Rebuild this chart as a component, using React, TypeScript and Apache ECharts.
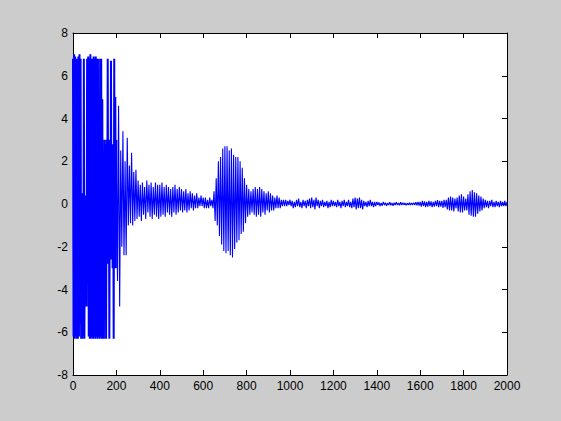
import React, { useEffect, useRef } from "react";
import * as echarts from "echarts";

// Signal samples.
// Segment A: x 0..197.5, one value every 2.5 units (dense clipped part)
const STEP_A = 2.5;
const a0000 = [6.8, -6.2, 7.0, -6.3, 6.9, -6.2, 6.8, -6.3, 6.8, -6.3, 6.9, -6.2, 7.0, -5.6, 6.8, -6.3, 0.5, -6.3, 0.3, -6.2];
const a0050 = [6.8, -6.3, 0.2, -4.6, 0.4, -4.8, 6.8, -0.3, 6.9, -6.2, 6.8, -6.3, 7.0, -6.3, 6.8, -6.2, 6.8, -6.3, 6.9, -6.2];
const a0100 = [6.8, -6.3, 6.9, -6.2, 6.8, -6.3, 6.8, -6.2, 3.3, -6.3, 6.8, -6.2, 6.8, -6.3, 4.9, -6.3, 2.0, -6.3, 3.0, -2.5];
const a0150 = [2.8, -6.3, 3.0, -2.5, 6.8, -2.8, 2.5, -6.3, 3.0, -2.4, 6.7, -2.6, 2.8, -3.0, 2.6, -6.3, 6.8, -2.5, 5.0, -3.0];
// Segment B: x 200..2000, one value every 5 units (blocks of 100 units)
const B_START = 200;
const STEP_B = 5;
const b0200 = [3.0, -3.6, 4.6, -4.8, 2.5, -2.0, 3.4, -2.4, 2.0, -2.4, 3.1, -1.0, 1.8, -0.9, 2.4, -1.0, 1.5, -0.8, 1.6, -0.7];
const b0300 = [1.1, -0.6, 0.9, -0.8, 1.0, -0.5, 0.8, -0.7, 1.1, -0.4, 0.9, -0.6, 1.0, -0.7, 0.8, -0.5, 1.0, -0.6, 0.9, -0.7];
const b0400 = [0.9, -0.6, 1.0, -0.5, 0.8, -0.6, 0.9, -0.4, 0.8, -0.5, 0.7, -0.6, 0.8, -0.4, 0.9, -0.5, 0.7, -0.4, 0.8, -0.3];
const b0500 = [0.7, -0.4, 0.6, -0.3, 0.7, -0.4, 0.5, -0.3, 0.6, -0.2, 0.5, -0.3, 0.4, -0.2, 0.5, -0.2, 0.3, -0.1, 0.4, -0.1];
const b0600 = [0.3, -0.2, 0.3, -0.2, 0.2, -0.2, 0.3, -0.1, 0.2, -0.2, 0.6, -0.8, 1.2, -1.0, 2.0, -1.5, 2.2, -1.9, 2.6, -2.2];
const b0700 = [2.7, -2.3, 2.7, -2.2, 2.5, -2.4, 2.6, -2.5, 2.3, -2.1, 2.2, -1.8, 2.2, -1.7, 2.0, -1.4, 1.7, -1.3, 1.2, -0.9];
const b0800 = [0.9, -0.6, 0.7, -0.5, 0.6, -0.4, 0.7, -0.5, 0.8, -0.6, 0.7, -0.5, 0.8, -0.6, 0.7, -0.4, 0.6, -0.5, 0.5, -0.3];
const b0900 = [0.6, -0.4, 0.5, -0.3, 0.4, -0.3, 0.3, -0.2, 0.4, -0.2, 0.3, -0.2, 0.2, -0.1, 0.2, -0.1, 0.2, -0.1, 0.15, -0.05];
const b1000 = [0.2, -0.1, 0.15, -0.2, 0.1, -0.15, 0.2, -0.1, 0.25, -0.15, 0.1, -0.2, 0.2, -0.1, 0.15, -0.2, 0.2, -0.1, 0.25, -0.2];
const b1100 = [0.3, -0.15, 0.2, -0.25, 0.3, -0.1, 0.2, -0.2, 0.15, -0.1, 0.2, -0.15, 0.1, -0.1, 0.15, -0.2, 0.1, -0.15, 0.2, -0.1];
const b1200 = [0.15, -0.1, 0.1, -0.15, 0.2, -0.1, 0.1, -0.2, 0.15, -0.1, 0.2, -0.15, 0.1, -0.1, 0.2, -0.15, 0.1, -0.2, 0.25, -0.15];
const b1300 = [0.3, -0.25, 0.25, -0.2, 0.3, -0.2, 0.2, -0.25, 0.15, -0.1, 0.1, -0.15, 0.15, -0.1, 0.2, -0.1, 0.1, -0.15, 0.1, -0.1];
const b1400 = [0.1, -0.05, 0.08, -0.1, 0.05, -0.08, 0.1, -0.05, 0.06, -0.08, 0.05, -0.05, 0.08, -0.06, 0.05, -0.08, 0.06, -0.05, 0.08, -0.05];
const b1500 = [0.05, -0.06, 0.08, -0.05, 0.06, -0.04, 0.05, -0.06, 0.04, -0.05, 0.06, -0.05, 0.05, -0.04, 0.06, -0.05, 0.08, -0.06, 0.1, -0.08];
const b1600 = [0.1, -0.12, 0.15, -0.1, 0.12, -0.15, 0.1, -0.12, 0.15, -0.1, 0.12, -0.15, 0.1, -0.12, 0.15, -0.1, 0.18, -0.15, 0.15, -0.12];
const b1700 = [0.15, -0.18, 0.2, -0.15, 0.2, -0.25, 0.3, -0.3, 0.35, -0.3, 0.3, -0.35, 0.25, -0.2, 0.3, -0.35, 0.4, -0.4, 0.45, -0.4];
const b1800 = [0.35, -0.3, 0.25, -0.3, 0.45, -0.5, 0.6, -0.55, 0.65, -0.6, 0.55, -0.6, 0.5, -0.45, 0.4, -0.35, 0.35, -0.3, 0.25, -0.2];
const b1900 = [0.2, -0.15, 0.15, -0.2, 0.15, -0.1, 0.2, -0.15, 0.1, -0.15, 0.15, -0.1, 0.1, -0.15, 0.15, -0.1, 0.1, -0.1, 0.15, -0.1, 0.1];

const segmentA = [...a0000, ...a0050, ...a0100, ...a0150];
const segmentB = [
  ...b0200, ...b0300, ...b0400, ...b0500, ...b0600, ...b0700, ...b0800, ...b0900,
  ...b1000, ...b1100, ...b1200, ...b1300, ...b1400, ...b1500, ...b1600, ...b1700, ...b1800, ...b1900,
];

const X_MIN = 0;
const X_MAX = 2000;
const X_INTERVAL = 200;
const Y_MIN = -8;
const Y_MAX = 8;
const Y_INTERVAL = 2;

export default function App() {
  const ref = useRef<HTMLDivElement>(null);

  useEffect(() => {
    if (!ref.current) return;
    const chart = echarts.init(ref.current, null, { renderer: "svg" });
    const font = { fontFamily: "Liberation Sans, Arial, sans-serif", fontSize: 12, color: "#000" };
    const axisLine = { show: true, onZero: false, lineStyle: { color: "#000", width: 1 } };
    const tick = { show: true, inside: true, length: 5, lineStyle: { color: "#000", width: 1 } };
    const dataB = segmentB.map((v, i) => [B_START + i * STEP_B, v]);
    const dataA = [...segmentA.map((v, i) => [i * STEP_A, v]), dataB[0]];
    const lineSeries = (data: number[][], width: number) => ({
      type: "line",
      xAxisIndex: 0,
      yAxisIndex: 0,
      data,
      showSymbol: false,
      symbol: "none",
      lineStyle: { color: "#0000ff", width },
      itemStyle: { color: "#0000ff" },
      silent: true,
    });
    chart.setOption({
      animation: false,
      backgroundColor: "#cccccc",
      grid: { left: 73, right: 54, top: 33, bottom: 46, show: true, backgroundColor: "#ffffff", borderWidth: 0 },
      xAxis: [
        {
          type: "value", position: "bottom", min: X_MIN, max: X_MAX, interval: X_INTERVAL,
          axisLine, axisTick: tick, splitLine: { show: false },
          axisLabel: { ...font, margin: 5, formatter: (v: number) => String(v) },
        },
        {
          type: "value", position: "top", min: X_MIN, max: X_MAX, interval: X_INTERVAL,
          axisLine, axisTick: tick, splitLine: { show: false }, axisLabel: { show: false },
        },
      ],
      yAxis: [
        {
          type: "value", position: "left", min: Y_MIN, max: Y_MAX, interval: Y_INTERVAL,
          axisLine, axisTick: tick, splitLine: { show: false },
          axisLabel: { ...font, margin: 5, formatter: (v: number) => String(v) },
        },
        {
          type: "value", position: "right", min: Y_MIN, max: Y_MAX, interval: Y_INTERVAL,
          axisLine, axisTick: tick, splitLine: { show: false }, axisLabel: { show: false },
        },
      ],
      series: [lineSeries(dataA, 2), lineSeries(dataB, 1.1)],
    });
    return () => chart.dispose();
  }, []);

  return (
    <div
      ref={ref}
      style={{ position: "fixed", left: 0, top: 0, width: 561, height: 421 }}
    />
  );
}
